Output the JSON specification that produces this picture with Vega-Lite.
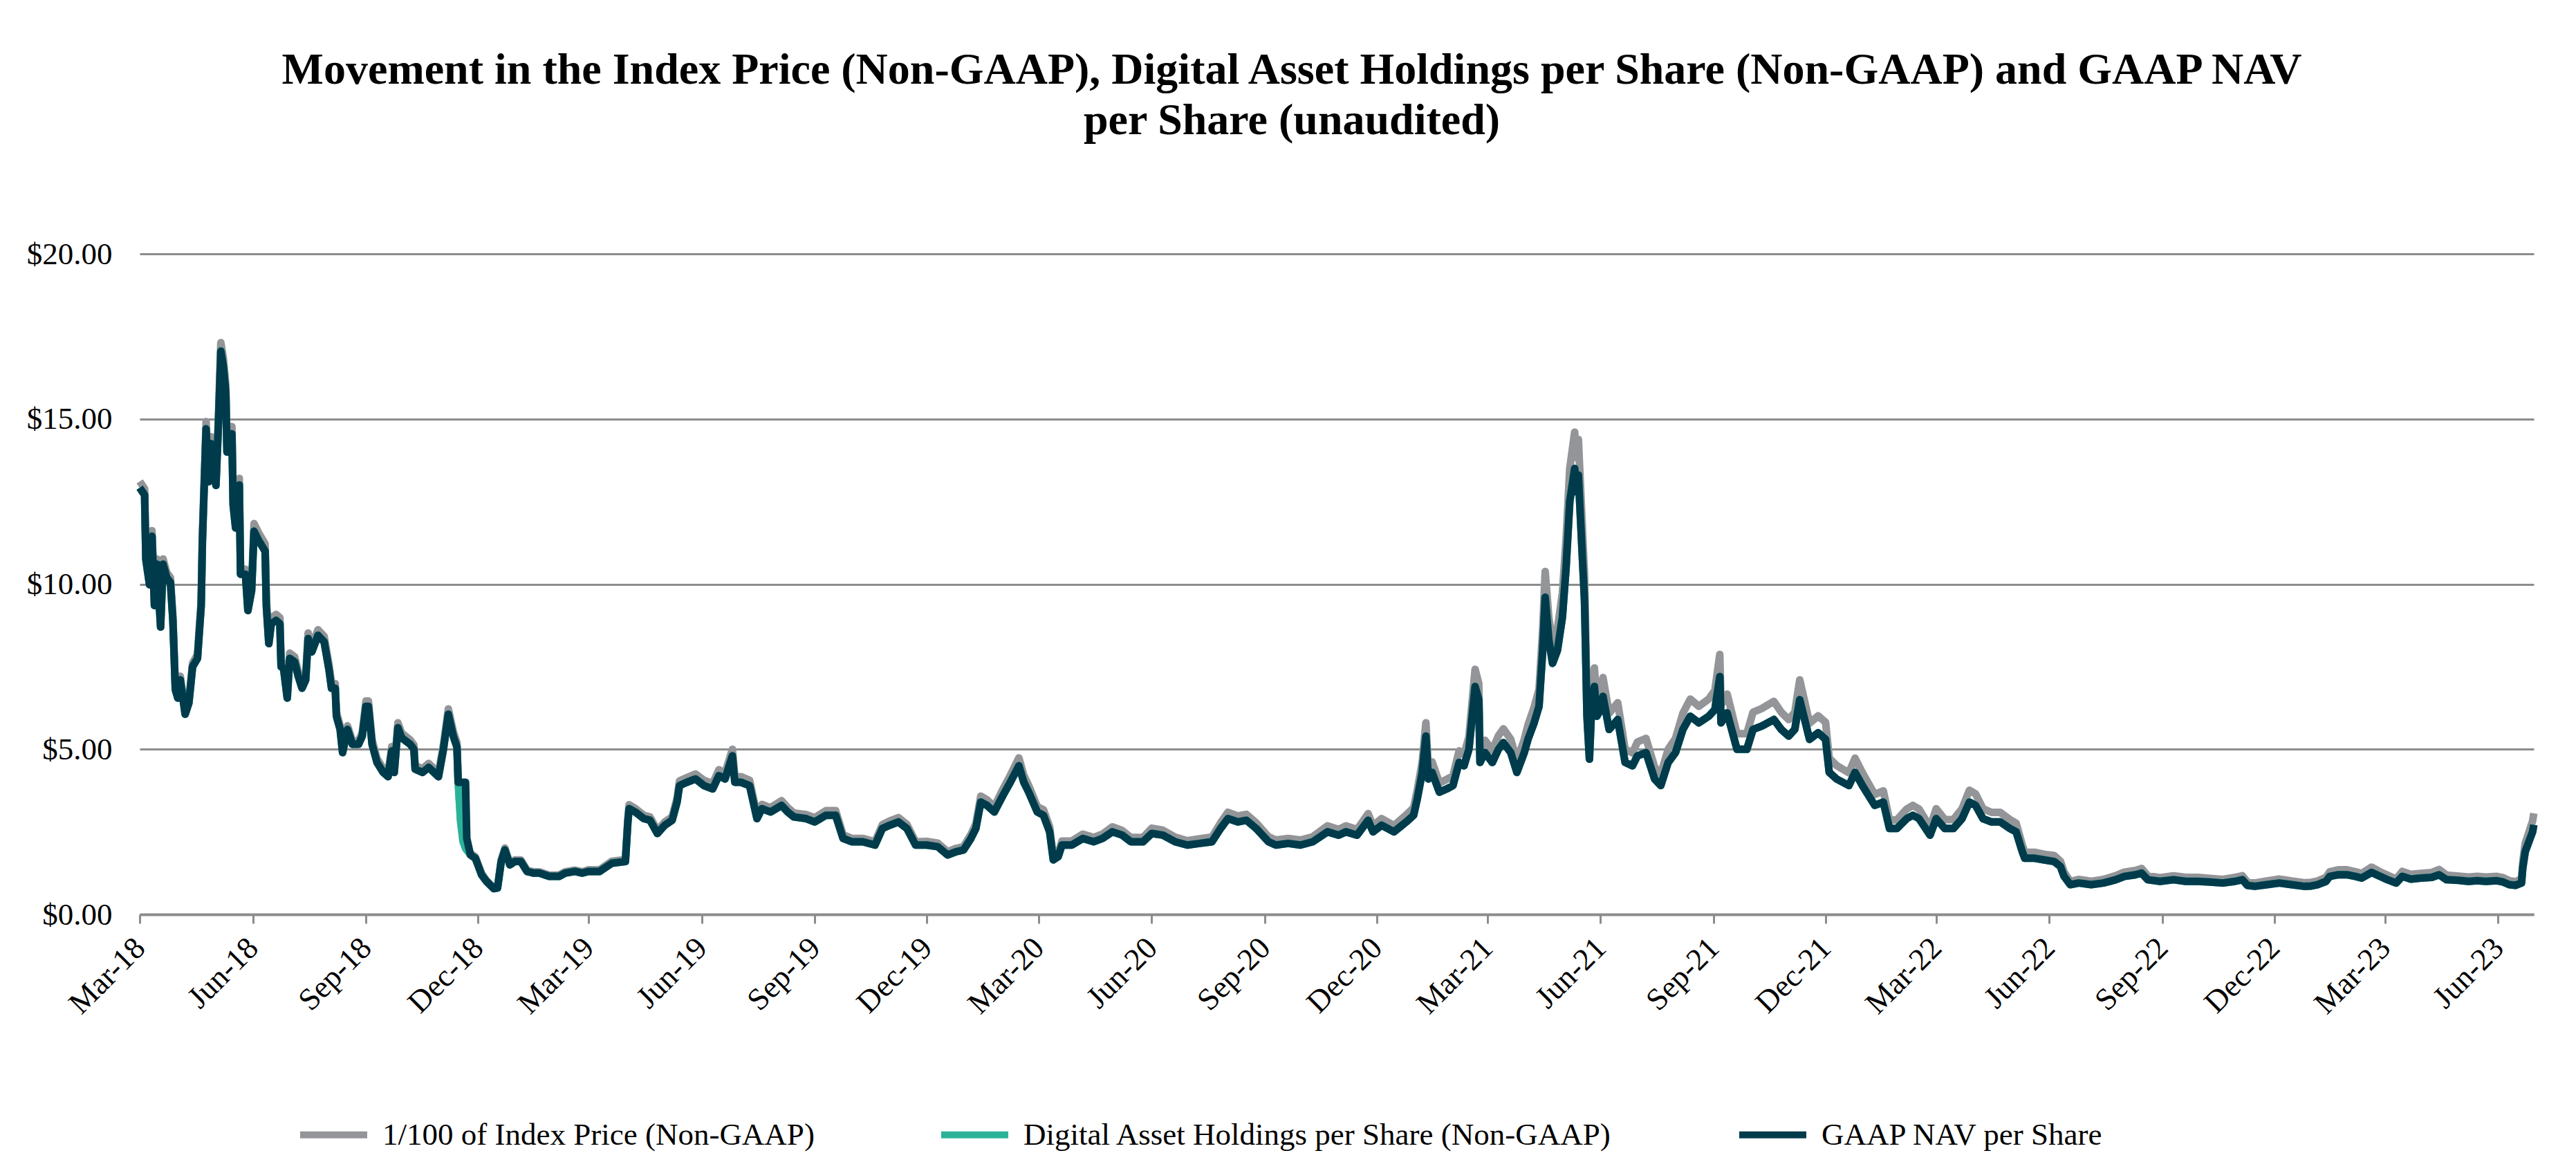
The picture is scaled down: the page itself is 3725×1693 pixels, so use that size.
{
"$schema": "https://vega.github.io/schema/vega-lite/v6.json",
"width": 3462,
"height": 955,
"autosize": {"type": "none"},
"padding": {"left": 202, "top": 367, "right": 61, "bottom": 371},
"background": "white",
"config": {"view": {"stroke": null}},
"title": {
  "text": ["Movement in the Index Price (Non-GAAP), Digital Asset Holdings per Share (Non-GAAP) and GAAP NAV", "per Share (unaudited)"],
  "font": "Liberation Serif", "fontSize": 64, "fontWeight": "bold", "color": "black",
  "anchor": "middle", "frame": "group", "lineHeight": 73, "offset": 138, "dx": -65
},
"data": {"values": [
{"d":"2018-03-01","i":13.11,"a":12.92,"n":12.92},
{"d":"2018-03-05","i":12.89,"a":12.7,"n":12.7},
{"d":"2018-03-06","i":10.91,"a":10.75,"n":10.75},
{"d":"2018-03-09","i":10.13,"a":9.98,"n":9.98},
{"d":"2018-03-11","i":11.62,"a":11.45,"n":11.45},
{"d":"2018-03-13","i":9.49,"a":9.35,"n":9.35},
{"d":"2018-03-15","i":10.76,"a":10.6,"n":10.6},
{"d":"2018-03-18","i":8.83,"a":8.7,"n":8.7},
{"d":"2018-03-20","i":10.76,"a":10.6,"n":10.6},
{"d":"2018-03-23","i":10.35,"a":10.2,"n":10.2},
{"d":"2018-03-26","i":10.2,"a":10.05,"n":10.05},
{"d":"2018-03-28","i":9.03,"a":8.9,"n":8.9},
{"d":"2018-03-30","i":6.9,"a":6.8,"n":6.8},
{"d":"2018-04-01","i":6.65,"a":6.55,"n":6.55},
{"d":"2018-04-03","i":7.21,"a":7.1,"n":7.1},
{"d":"2018-04-07","i":6.15,"a":6.06,"n":6.06},
{"d":"2018-04-10","i":6.5,"a":6.4,"n":6.4},
{"d":"2018-04-13","i":7.61,"a":7.5,"n":7.5},
{"d":"2018-04-17","i":7.87,"a":7.75,"n":7.75},
{"d":"2018-04-20","i":9.49,"a":9.35,"n":9.35},
{"d":"2018-04-21","i":11.47,"a":11.3,"n":11.3},
{"d":"2018-04-24","i":14.92,"a":14.7,"n":14.7},
{"d":"2018-04-26","i":13.3,"a":13.1,"n":13.1},
{"d":"2018-04-28","i":14.46,"a":14.25,"n":14.25},
{"d":"2018-04-30","i":14.01,"a":13.8,"n":13.8},
{"d":"2018-05-02","i":13.18,"a":12.99,"n":12.99},
{"d":"2018-05-04","i":15.02,"a":14.8,"n":14.8},
{"d":"2018-05-06","i":17.31,"a":17.05,"n":17.05},
{"d":"2018-05-08","i":16.85,"a":16.6,"n":16.6},
{"d":"2018-05-10","i":16.04,"a":15.8,"n":15.8},
{"d":"2018-05-11","i":14.21,"a":14.0,"n":14.0},
{"d":"2018-05-13","i":14.77,"a":14.55,"n":14.55},
{"d":"2018-05-15","i":14.77,"a":14.55,"n":14.55},
{"d":"2018-05-16","i":12.59,"a":12.4,"n":12.4},
{"d":"2018-05-18","i":11.88,"a":11.7,"n":11.7},
{"d":"2018-05-21","i":13.2,"a":13.0,"n":13.0},
{"d":"2018-05-22","i":10.45,"a":10.3,"n":10.3},
{"d":"2018-05-26","i":10.45,"a":10.3,"n":10.3},
{"d":"2018-05-28","i":9.34,"a":9.2,"n":9.2},
{"d":"2018-05-31","i":9.95,"a":9.8,"n":9.8},
{"d":"2018-06-02","i":11.83,"a":11.6,"n":11.6},
{"d":"2018-06-06","i":11.53,"a":11.3,"n":11.3},
{"d":"2018-06-11","i":11.22,"a":11.0,"n":11.0},
{"d":"2018-06-12","i":9.54,"a":9.35,"n":9.35},
{"d":"2018-06-14","i":8.36,"a":8.2,"n":8.2},
{"d":"2018-06-16","i":8.98,"a":8.8,"n":8.8},
{"d":"2018-06-20","i":9.08,"a":8.9,"n":8.9},
{"d":"2018-06-23","i":8.98,"a":8.8,"n":8.8},
{"d":"2018-06-24","i":7.65,"a":7.5,"n":7.5},
{"d":"2018-06-26","i":7.6,"a":7.45,"n":7.45},
{"d":"2018-06-29","i":6.68,"a":6.55,"n":6.55},
{"d":"2018-07-01","i":7.91,"a":7.75,"n":7.75},
{"d":"2018-07-05","i":7.8,"a":7.65,"n":7.65},
{"d":"2018-07-08","i":7.34,"a":7.2,"n":7.2},
{"d":"2018-07-11","i":6.99,"a":6.85,"n":6.85},
{"d":"2018-07-14","i":7.24,"a":7.1,"n":7.1},
{"d":"2018-07-16","i":8.52,"a":8.35,"n":8.35},
{"d":"2018-07-19","i":8.11,"a":7.95,"n":7.95},
{"d":"2018-07-24","i":8.62,"a":8.45,"n":8.45},
{"d":"2018-07-29","i":8.42,"a":8.25,"n":8.25},
{"d":"2018-08-02","i":7.55,"a":7.4,"n":7.4},
{"d":"2018-08-04","i":6.99,"a":6.85,"n":6.85},
{"d":"2018-08-07","i":6.99,"a":6.85,"n":6.85},
{"d":"2018-08-08","i":6.12,"a":6.0,"n":6.0},
{"d":"2018-08-11","i":5.71,"a":5.6,"n":5.6},
{"d":"2018-08-13","i":5.0,"a":4.9,"n":4.9},
{"d":"2018-08-17","i":5.71,"a":5.6,"n":5.6},
{"d":"2018-08-21","i":5.25,"a":5.15,"n":5.15},
{"d":"2018-08-26","i":5.25,"a":5.15,"n":5.15},
{"d":"2018-08-29","i":5.51,"a":5.4,"n":5.4},
{"d":"2018-09-01","i":6.46,"a":6.3,"n":6.3},
{"d":"2018-09-03","i":6.46,"a":6.3,"n":6.3},
{"d":"2018-09-06","i":5.28,"a":5.15,"n":5.15},
{"d":"2018-09-10","i":4.72,"a":4.6,"n":4.6},
{"d":"2018-09-15","i":4.41,"a":4.3,"n":4.3},
{"d":"2018-09-19","i":4.28,"a":4.17,"n":4.17},
{"d":"2018-09-22","i":5.08,"a":4.95,"n":4.95},
{"d":"2018-09-24","i":4.41,"a":4.3,"n":4.3},
{"d":"2018-09-27","i":5.8,"a":5.65,"n":5.65},
{"d":"2018-09-30","i":5.49,"a":5.35,"n":5.35},
{"d":"2018-10-07","i":5.28,"a":5.15,"n":5.15},
{"d":"2018-10-10","i":5.13,"a":5.0,"n":5.0},
{"d":"2018-10-11","i":4.51,"a":4.4,"n":4.4},
{"d":"2018-10-17","i":4.41,"a":4.3,"n":4.3},
{"d":"2018-10-22","i":4.57,"a":4.45,"n":4.45},
{"d":"2018-10-30","i":4.28,"a":4.17,"n":4.17},
{"d":"2018-11-03","i":5.13,"a":5.0,"n":5.0},
{"d":"2018-11-07","i":6.22,"a":6.06,"n":6.06},
{"d":"2018-11-11","i":5.54,"a":5.4,"n":5.4},
{"d":"2018-11-14","i":5.2,"a":5.07,"n":5.07},
{"d":"2018-11-15","i":4.1,"a":4.0,"n":4.0},
{"d":"2018-11-17","i":2.87,"a":2.8,"n":4.0},
{"d":"2018-11-19","i":2.26,"a":2.2,"n":4.0},
{"d":"2018-11-21","i":2.05,"a":2.0,"n":4.0},
{"d":"2018-11-22","i":2.0,"a":1.95,"n":2.3},
{"d":"2018-11-25","i":1.85,"a":1.8,"n":1.8},
{"d":"2018-11-29","i":1.74,"a":1.7,"n":1.7},
{"d":"2018-12-04","i":1.24,"a":1.2,"n":1.2},
{"d":"2018-12-08","i":1.03,"a":1.0,"n":1.0},
{"d":"2018-12-14","i":0.8,"a":0.78,"n":0.78},
{"d":"2018-12-17","i":0.82,"a":0.8,"n":0.8},
{"d":"2018-12-20","i":1.65,"a":1.6,"n":1.6},
{"d":"2018-12-23","i":2.01,"a":1.95,"n":1.95},
{"d":"2018-12-27","i":1.55,"a":1.5,"n":1.5},
{"d":"2018-12-31","i":1.65,"a":1.6,"n":1.6},
{"d":"2019-01-05","i":1.65,"a":1.6,"n":1.6},
{"d":"2019-01-10","i":1.34,"a":1.3,"n":1.3},
{"d":"2019-01-15","i":1.29,"a":1.25,"n":1.25},
{"d":"2019-01-20","i":1.29,"a":1.25,"n":1.25},
{"d":"2019-01-28","i":1.19,"a":1.15,"n":1.15},
{"d":"2019-02-05","i":1.19,"a":1.15,"n":1.15},
{"d":"2019-02-10","i":1.29,"a":1.25,"n":1.25},
{"d":"2019-02-18","i":1.34,"a":1.3,"n":1.3},
{"d":"2019-02-24","i":1.29,"a":1.25,"n":1.25},
{"d":"2019-03-01","i":1.35,"a":1.3,"n":1.3},
{"d":"2019-03-10","i":1.35,"a":1.3,"n":1.3},
{"d":"2019-03-20","i":1.61,"a":1.55,"n":1.55},
{"d":"2019-03-31","i":1.66,"a":1.6,"n":1.6},
{"d":"2019-04-02","i":2.9,"a":2.8,"n":2.8},
{"d":"2019-04-03","i":3.32,"a":3.2,"n":3.2},
{"d":"2019-04-08","i":3.21,"a":3.1,"n":3.1},
{"d":"2019-04-15","i":3.0,"a":2.9,"n":2.9},
{"d":"2019-04-20","i":2.95,"a":2.85,"n":2.85},
{"d":"2019-04-26","i":2.54,"a":2.45,"n":2.45},
{"d":"2019-05-02","i":2.8,"a":2.7,"n":2.7},
{"d":"2019-05-08","i":2.95,"a":2.85,"n":2.85},
{"d":"2019-05-12","i":3.52,"a":3.4,"n":3.4},
{"d":"2019-05-14","i":4.04,"a":3.9,"n":3.9},
{"d":"2019-05-20","i":4.14,"a":4.0,"n":4.0},
{"d":"2019-05-27","i":4.25,"a":4.1,"n":4.1},
{"d":"2019-06-03","i":4.06,"a":3.9,"n":3.9},
{"d":"2019-06-10","i":3.96,"a":3.8,"n":3.8},
{"d":"2019-06-15","i":4.38,"a":4.2,"n":4.2},
{"d":"2019-06-20","i":4.27,"a":4.1,"n":4.1},
{"d":"2019-06-26","i":5.0,"a":4.8,"n":4.8},
{"d":"2019-06-28","i":4.17,"a":4.0,"n":4.0},
{"d":"2019-07-03","i":4.17,"a":4.0,"n":4.0},
{"d":"2019-07-10","i":4.06,"a":3.9,"n":3.9},
{"d":"2019-07-16","i":3.02,"a":2.9,"n":2.9},
{"d":"2019-07-20","i":3.33,"a":3.2,"n":3.2},
{"d":"2019-07-27","i":3.23,"a":3.1,"n":3.1},
{"d":"2019-08-05","i":3.44,"a":3.3,"n":3.3},
{"d":"2019-08-10","i":3.23,"a":3.1,"n":3.1},
{"d":"2019-08-15","i":3.07,"a":2.95,"n":2.95},
{"d":"2019-08-25","i":3.02,"a":2.9,"n":2.9},
{"d":"2019-09-01","i":2.93,"a":2.8,"n":2.8},
{"d":"2019-09-10","i":3.14,"a":3.0,"n":3.0},
{"d":"2019-09-18","i":3.14,"a":3.0,"n":3.0},
{"d":"2019-09-24","i":2.41,"a":2.3,"n":2.3},
{"d":"2019-10-01","i":2.3,"a":2.2,"n":2.2},
{"d":"2019-10-10","i":2.3,"a":2.2,"n":2.2},
{"d":"2019-10-20","i":2.2,"a":2.1,"n":2.1},
{"d":"2019-10-26","i":2.72,"a":2.6,"n":2.6},
{"d":"2019-11-01","i":2.83,"a":2.7,"n":2.7},
{"d":"2019-11-08","i":2.93,"a":2.8,"n":2.8},
{"d":"2019-11-15","i":2.72,"a":2.6,"n":2.6},
{"d":"2019-11-22","i":2.2,"a":2.1,"n":2.1},
{"d":"2019-12-01","i":2.21,"a":2.1,"n":2.1},
{"d":"2019-12-10","i":2.16,"a":2.05,"n":2.05},
{"d":"2019-12-18","i":1.9,"a":1.8,"n":1.8},
{"d":"2019-12-25","i":2.0,"a":1.9,"n":1.9},
{"d":"2019-12-31","i":2.05,"a":1.95,"n":1.95},
{"d":"2020-01-06","i":2.42,"a":2.3,"n":2.3},
{"d":"2020-01-10","i":2.74,"a":2.6,"n":2.6},
{"d":"2020-01-14","i":3.58,"a":3.4,"n":3.4},
{"d":"2020-01-19","i":3.47,"a":3.3,"n":3.3},
{"d":"2020-01-25","i":3.26,"a":3.1,"n":3.1},
{"d":"2020-02-01","i":3.79,"a":3.6,"n":3.6},
{"d":"2020-02-07","i":4.21,"a":4.0,"n":4.0},
{"d":"2020-02-14","i":4.74,"a":4.5,"n":4.5},
{"d":"2020-02-18","i":4.21,"a":4.0,"n":4.0},
{"d":"2020-02-22","i":3.9,"a":3.7,"n":3.7},
{"d":"2020-02-29","i":3.26,"a":3.1,"n":3.1},
{"d":"2020-03-05","i":3.17,"a":3.0,"n":3.0},
{"d":"2020-03-10","i":2.65,"a":2.5,"n":2.5},
{"d":"2020-03-13","i":1.75,"a":1.65,"n":1.65},
{"d":"2020-03-17","i":1.85,"a":1.75,"n":1.75},
{"d":"2020-03-20","i":2.22,"a":2.1,"n":2.1},
{"d":"2020-03-28","i":2.22,"a":2.1,"n":2.1},
{"d":"2020-04-06","i":2.43,"a":2.3,"n":2.3},
{"d":"2020-04-15","i":2.33,"a":2.2,"n":2.2},
{"d":"2020-04-22","i":2.43,"a":2.3,"n":2.3},
{"d":"2020-04-30","i":2.65,"a":2.5,"n":2.5},
{"d":"2020-05-08","i":2.54,"a":2.4,"n":2.4},
{"d":"2020-05-15","i":2.33,"a":2.2,"n":2.2},
{"d":"2020-05-25","i":2.33,"a":2.2,"n":2.2},
{"d":"2020-06-01","i":2.61,"a":2.45,"n":2.45},
{"d":"2020-06-10","i":2.55,"a":2.4,"n":2.4},
{"d":"2020-06-20","i":2.34,"a":2.2,"n":2.2},
{"d":"2020-06-30","i":2.23,"a":2.1,"n":2.1},
{"d":"2020-07-10","i":2.29,"a":2.15,"n":2.15},
{"d":"2020-07-20","i":2.34,"a":2.2,"n":2.2},
{"d":"2020-07-27","i":2.77,"a":2.6,"n":2.6},
{"d":"2020-08-02","i":3.09,"a":2.9,"n":2.9},
{"d":"2020-08-10","i":2.98,"a":2.8,"n":2.8},
{"d":"2020-08-17","i":3.03,"a":2.85,"n":2.85},
{"d":"2020-08-25","i":2.77,"a":2.6,"n":2.6},
{"d":"2020-09-04","i":2.35,"a":2.2,"n":2.2},
{"d":"2020-09-10","i":2.25,"a":2.1,"n":2.1},
{"d":"2020-09-20","i":2.3,"a":2.15,"n":2.15},
{"d":"2020-09-30","i":2.25,"a":2.1,"n":2.1},
{"d":"2020-10-10","i":2.35,"a":2.2,"n":2.2},
{"d":"2020-10-22","i":2.68,"a":2.5,"n":2.5},
{"d":"2020-10-31","i":2.57,"a":2.4,"n":2.4},
{"d":"2020-11-06","i":2.68,"a":2.5,"n":2.5},
{"d":"2020-11-15","i":2.57,"a":2.4,"n":2.4},
{"d":"2020-11-24","i":3.05,"a":2.85,"n":2.85},
{"d":"2020-11-28","i":2.68,"a":2.5,"n":2.5},
{"d":"2020-12-05","i":2.9,"a":2.7,"n":2.7},
{"d":"2020-12-15","i":2.69,"a":2.5,"n":2.5},
{"d":"2020-12-25","i":3.01,"a":2.8,"n":2.8},
{"d":"2020-12-31","i":3.23,"a":3.0,"n":3.0},
{"d":"2021-01-03","i":3.76,"a":3.5,"n":3.5},
{"d":"2021-01-07","i":4.62,"a":4.3,"n":4.3},
{"d":"2021-01-10","i":5.8,"a":5.4,"n":5.4},
{"d":"2021-01-12","i":4.41,"a":4.1,"n":4.1},
{"d":"2021-01-15","i":4.62,"a":4.3,"n":4.3},
{"d":"2021-01-21","i":3.98,"a":3.7,"n":3.7},
{"d":"2021-01-27","i":4.09,"a":3.8,"n":3.8},
{"d":"2021-02-01","i":4.19,"a":3.9,"n":3.9},
{"d":"2021-02-06","i":4.95,"a":4.6,"n":4.6},
{"d":"2021-02-10","i":4.84,"a":4.5,"n":4.5},
{"d":"2021-02-14","i":5.38,"a":5.0,"n":5.0},
{"d":"2021-02-19","i":7.42,"a":6.9,"n":6.9},
{"d":"2021-02-22","i":6.99,"a":6.5,"n":6.5},
{"d":"2021-02-23","i":4.95,"a":4.6,"n":4.6},
{"d":"2021-02-27","i":5.27,"a":4.9,"n":4.9},
{"d":"2021-03-05","i":4.97,"a":4.6,"n":4.6},
{"d":"2021-03-10","i":5.41,"a":5.0,"n":5.0},
{"d":"2021-03-14","i":5.62,"a":5.2,"n":5.2},
{"d":"2021-03-20","i":5.3,"a":4.9,"n":4.9},
{"d":"2021-03-25","i":4.65,"a":4.3,"n":4.3},
{"d":"2021-03-31","i":5.3,"a":4.9,"n":4.9},
{"d":"2021-04-03","i":5.73,"a":5.3,"n":5.3},
{"d":"2021-04-08","i":6.27,"a":5.8,"n":5.8},
{"d":"2021-04-12","i":6.81,"a":6.3,"n":6.3},
{"d":"2021-04-15","i":8.65,"a":8.0,"n":8.0},
{"d":"2021-04-17","i":10.38,"a":9.6,"n":9.6},
{"d":"2021-04-20","i":8.97,"a":8.3,"n":8.3},
{"d":"2021-04-23","i":8.22,"a":7.6,"n":7.6},
{"d":"2021-04-27","i":8.65,"a":8.0,"n":8.0},
{"d":"2021-05-01","i":9.73,"a":9.0,"n":9.0},
{"d":"2021-05-04","i":11.35,"a":10.5,"n":10.5},
{"d":"2021-05-07","i":13.51,"a":12.5,"n":12.5},
{"d":"2021-05-11","i":14.6,"a":13.5,"n":13.5},
{"d":"2021-05-12","i":13.84,"a":12.8,"n":12.8},
{"d":"2021-05-14","i":14.38,"a":13.3,"n":13.3},
{"d":"2021-05-17","i":11.89,"a":11.0,"n":11.0},
{"d":"2021-05-19","i":10.27,"a":9.5,"n":9.5},
{"d":"2021-05-21","i":6.49,"a":6.0,"n":6.0},
{"d":"2021-05-23","i":5.08,"a":4.7,"n":4.7},
{"d":"2021-05-25","i":7.03,"a":6.5,"n":6.5},
{"d":"2021-05-27","i":7.46,"a":6.9,"n":6.9},
{"d":"2021-05-29","i":6.49,"a":6.0,"n":6.0},
{"d":"2021-06-01","i":6.74,"a":6.2,"n":6.2},
{"d":"2021-06-03","i":7.17,"a":6.6,"n":6.6},
{"d":"2021-06-08","i":6.09,"a":5.6,"n":5.6},
{"d":"2021-06-15","i":6.41,"a":5.9,"n":5.9},
{"d":"2021-06-21","i":5.0,"a":4.6,"n":4.6},
{"d":"2021-06-27","i":4.89,"a":4.5,"n":4.5},
{"d":"2021-07-01","i":5.22,"a":4.8,"n":4.8},
{"d":"2021-07-08","i":5.33,"a":4.9,"n":4.9},
{"d":"2021-07-15","i":4.46,"a":4.1,"n":4.1},
{"d":"2021-07-20","i":4.24,"a":3.9,"n":3.9},
{"d":"2021-07-26","i":5.0,"a":4.6,"n":4.6},
{"d":"2021-08-01","i":5.33,"a":4.9,"n":4.9},
{"d":"2021-08-07","i":6.09,"a":5.6,"n":5.6},
{"d":"2021-08-13","i":6.52,"a":6.0,"n":6.0},
{"d":"2021-08-20","i":6.3,"a":5.8,"n":5.8},
{"d":"2021-08-28","i":6.52,"a":6.0,"n":6.0},
{"d":"2021-09-02","i":6.78,"a":6.2,"n":6.2},
{"d":"2021-09-06","i":7.87,"a":7.2,"n":7.2},
{"d":"2021-09-07","i":6.34,"a":5.8,"n":5.8},
{"d":"2021-09-12","i":6.67,"a":6.1,"n":6.1},
{"d":"2021-09-20","i":5.47,"a":5.0,"n":5.0},
{"d":"2021-09-28","i":5.47,"a":5.0,"n":5.0},
{"d":"2021-10-03","i":6.12,"a":5.6,"n":5.6},
{"d":"2021-10-10","i":6.23,"a":5.7,"n":5.7},
{"d":"2021-10-15","i":6.34,"a":5.8,"n":5.8},
{"d":"2021-10-20","i":6.45,"a":5.9,"n":5.9},
{"d":"2021-10-26","i":6.12,"a":5.6,"n":5.6},
{"d":"2021-11-01","i":5.9,"a":5.4,"n":5.4},
{"d":"2021-11-06","i":6.12,"a":5.6,"n":5.6},
{"d":"2021-11-10","i":7.1,"a":6.5,"n":6.5},
{"d":"2021-11-14","i":6.45,"a":5.9,"n":5.9},
{"d":"2021-11-18","i":5.79,"a":5.3,"n":5.3},
{"d":"2021-11-25","i":6.01,"a":5.5,"n":5.5},
{"d":"2021-12-01","i":5.82,"a":5.3,"n":5.3},
{"d":"2021-12-04","i":4.73,"a":4.3,"n":4.3},
{"d":"2021-12-10","i":4.51,"a":4.1,"n":4.1},
{"d":"2021-12-20","i":4.29,"a":3.9,"n":3.9},
{"d":"2021-12-25","i":4.73,"a":4.3,"n":4.3},
{"d":"2021-12-31","i":4.29,"a":3.9,"n":3.9},
{"d":"2022-01-05","i":3.96,"a":3.6,"n":3.6},
{"d":"2022-01-10","i":3.63,"a":3.3,"n":3.3},
{"d":"2022-01-17","i":3.74,"a":3.4,"n":3.4},
{"d":"2022-01-22","i":2.86,"a":2.6,"n":2.6},
{"d":"2022-01-28","i":2.86,"a":2.6,"n":2.6},
{"d":"2022-02-05","i":3.19,"a":2.9,"n":2.9},
{"d":"2022-02-10","i":3.3,"a":3.0,"n":3.0},
{"d":"2022-02-15","i":3.19,"a":2.9,"n":2.9},
{"d":"2022-02-24","i":2.64,"a":2.4,"n":2.4},
{"d":"2022-03-01","i":3.2,"a":2.9,"n":2.9},
{"d":"2022-03-08","i":2.87,"a":2.6,"n":2.6},
{"d":"2022-03-15","i":2.87,"a":2.6,"n":2.6},
{"d":"2022-03-22","i":3.2,"a":2.9,"n":2.9},
{"d":"2022-03-28","i":3.76,"a":3.4,"n":3.4},
{"d":"2022-04-02","i":3.65,"a":3.3,"n":3.3},
{"d":"2022-04-08","i":3.2,"a":2.9,"n":2.9},
{"d":"2022-04-15","i":3.09,"a":2.8,"n":2.8},
{"d":"2022-04-22","i":3.09,"a":2.8,"n":2.8},
{"d":"2022-04-30","i":2.87,"a":2.6,"n":2.6},
{"d":"2022-05-05","i":2.76,"a":2.5,"n":2.5},
{"d":"2022-05-10","i":2.1,"a":1.9,"n":1.9},
{"d":"2022-05-12","i":1.88,"a":1.7,"n":1.7},
{"d":"2022-05-20","i":1.88,"a":1.7,"n":1.7},
{"d":"2022-05-28","i":1.82,"a":1.65,"n":1.65},
{"d":"2022-06-05","i":1.78,"a":1.6,"n":1.6},
{"d":"2022-06-10","i":1.61,"a":1.45,"n":1.45},
{"d":"2022-06-13","i":1.28,"a":1.15,"n":1.15},
{"d":"2022-06-18","i":1.0,"a":0.9,"n":0.9},
{"d":"2022-06-25","i":1.06,"a":0.95,"n":0.95},
{"d":"2022-07-05","i":1.0,"a":0.9,"n":0.9},
{"d":"2022-07-15","i":1.06,"a":0.95,"n":0.95},
{"d":"2022-07-25","i":1.17,"a":1.05,"n":1.05},
{"d":"2022-08-01","i":1.28,"a":1.15,"n":1.15},
{"d":"2022-08-10","i":1.33,"a":1.2,"n":1.2},
{"d":"2022-08-15","i":1.39,"a":1.25,"n":1.25},
{"d":"2022-08-20","i":1.17,"a":1.05,"n":1.05},
{"d":"2022-08-30","i":1.11,"a":1.0,"n":1.0},
{"d":"2022-09-10","i":1.17,"a":1.05,"n":1.05},
{"d":"2022-09-20","i":1.12,"a":1.0,"n":1.0},
{"d":"2022-09-30","i":1.12,"a":1.0,"n":1.0},
{"d":"2022-10-10","i":1.09,"a":0.98,"n":0.98},
{"d":"2022-10-20","i":1.06,"a":0.95,"n":0.95},
{"d":"2022-10-30","i":1.12,"a":1.0,"n":1.0},
{"d":"2022-11-05","i":1.17,"a":1.05,"n":1.05},
{"d":"2022-11-09","i":0.98,"a":0.88,"n":0.88},
{"d":"2022-11-15","i":0.95,"a":0.85,"n":0.85},
{"d":"2022-11-25","i":1.01,"a":0.9,"n":0.9},
{"d":"2022-12-05","i":1.07,"a":0.95,"n":0.95},
{"d":"2022-12-15","i":1.01,"a":0.9,"n":0.9},
{"d":"2022-12-25","i":0.96,"a":0.85,"n":0.85},
{"d":"2022-12-31","i":0.97,"a":0.86,"n":0.86},
{"d":"2023-01-05","i":1.01,"a":0.9,"n":0.9},
{"d":"2023-01-12","i":1.12,"a":1.0,"n":1.0},
{"d":"2023-01-15","i":1.29,"a":1.15,"n":1.15},
{"d":"2023-01-22","i":1.35,"a":1.2,"n":1.2},
{"d":"2023-01-29","i":1.35,"a":1.2,"n":1.2},
{"d":"2023-02-05","i":1.29,"a":1.15,"n":1.15},
{"d":"2023-02-10","i":1.24,"a":1.1,"n":1.1},
{"d":"2023-02-18","i":1.43,"a":1.27,"n":1.27},
{"d":"2023-02-25","i":1.29,"a":1.15,"n":1.15},
{"d":"2023-03-03","i":1.19,"a":1.05,"n":1.05},
{"d":"2023-03-10","i":1.07,"a":0.95,"n":0.95},
{"d":"2023-03-15","i":1.3,"a":1.15,"n":1.15},
{"d":"2023-03-22","i":1.21,"a":1.07,"n":1.07},
{"d":"2023-03-30","i":1.24,"a":1.1,"n":1.1},
{"d":"2023-04-08","i":1.27,"a":1.12,"n":1.12},
{"d":"2023-04-14","i":1.36,"a":1.2,"n":1.2},
{"d":"2023-04-20","i":1.19,"a":1.05,"n":1.05},
{"d":"2023-04-30","i":1.16,"a":1.03,"n":1.03},
{"d":"2023-05-08","i":1.13,"a":1.0,"n":1.0},
{"d":"2023-05-15","i":1.15,"a":1.02,"n":1.02},
{"d":"2023-05-22","i":1.13,"a":1.0,"n":1.0},
{"d":"2023-05-31","i":1.15,"a":1.02,"n":1.02},
{"d":"2023-06-05","i":1.11,"a":0.98,"n":0.98},
{"d":"2023-06-10","i":1.02,"a":0.9,"n":0.9},
{"d":"2023-06-15","i":0.99,"a":0.88,"n":0.88},
{"d":"2023-06-20","i":1.07,"a":0.95,"n":0.95},
{"d":"2023-06-21","i":1.58,"a":1.4,"n":1.4},
{"d":"2023-06-23","i":2.15,"a":1.9,"n":1.9},
{"d":"2023-06-25","i":2.37,"a":2.1,"n":2.1},
{"d":"2023-06-27","i":2.6,"a":2.3,"n":2.3},
{"d":"2023-06-29","i":2.83,"a":2.5,"n":2.5},
{"d":"2023-06-30","i":3.06,"a":2.71,"n":2.71}
]},
"transform": [{"fold": ["i", "a", "n"], "as": ["k", "v"]}],
"encoding": {
  "x": {"field": "d", "type": "temporal",
    "scale": {"type": "utc", "domain": [{"year": 2018, "month": 3, "date": 1, "utc": true}, {"year": 2023, "month": 6, "date": 30, "utc": true}]},
    "axis": {"title": null, "format": "%b-%y", "labelAngle": -45, "labelAlign": "right", "labelBaseline": "middle",
      "labelFont": "Liberation Serif", "labelFontSize": 45, "labelColor": "black", "labelPadding": 28, "labelOverlap": false, "labelFlush": false,
      "grid": false, "domainColor": "#8c8c8c", "domainWidth": 4, "tickColor": "#8c8c8c", "tickWidth": 3, "tickSize": 13,
      "values": [
        {"year":2018,"month":3,"date":1,"utc":true},{"year":2018,"month":6,"date":1,"utc":true},{"year":2018,"month":9,"date":1,"utc":true},{"year":2018,"month":12,"date":1,"utc":true},
        {"year":2019,"month":3,"date":1,"utc":true},{"year":2019,"month":6,"date":1,"utc":true},{"year":2019,"month":9,"date":1,"utc":true},{"year":2019,"month":12,"date":1,"utc":true},
        {"year":2020,"month":3,"date":1,"utc":true},{"year":2020,"month":6,"date":1,"utc":true},{"year":2020,"month":9,"date":1,"utc":true},{"year":2020,"month":12,"date":1,"utc":true},
        {"year":2021,"month":3,"date":1,"utc":true},{"year":2021,"month":6,"date":1,"utc":true},{"year":2021,"month":9,"date":1,"utc":true},{"year":2021,"month":12,"date":1,"utc":true},
        {"year":2022,"month":3,"date":1,"utc":true},{"year":2022,"month":6,"date":1,"utc":true},{"year":2022,"month":9,"date":1,"utc":true},{"year":2022,"month":12,"date":1,"utc":true},
        {"year":2023,"month":3,"date":1,"utc":true},{"year":2023,"month":6,"date":1,"utc":true}
      ]}},
  "y": {"field": "v", "type": "quantitative",
    "scale": {"domain": [0, 20], "nice": false, "zero": true},
    "axis": {"title": null, "values": [0, 5, 10, 15, 20], "format": "$.2f", "labelFont": "Liberation Serif", "labelFontSize": 45, "labelColor": "black",
      "labelPadding": 40, "domain": false, "ticks": false, "grid": true, "gridColor": "#8c8c8c", "gridWidth": 3}},
  "color": {"field": "k", "type": "nominal",
    "scale": {"domain": ["i", "a", "n"], "range": ["#939598", "#2BB39A", "#003B4C"]},
    "legend": {"title": null, "orient": "none", "legendX": 227, "legendY": 1220, "direction": "horizontal",
      "symbolType": "stroke", "symbolSize": 9409, "symbolStrokeWidth": 10, "labelFont": "Liberation Serif", "labelFontSize": 45, "labelColor": "black",
      "labelLimit": 2000, "labelOffset": 17, "columnPadding": 163,
      "labelExpr": "datum.label == 'i' ? '1/100 of Index Price (Non-GAAP)' : datum.label == 'a' ? 'Digital Asset Holdings per Share (Non-GAAP)' : 'GAAP NAV per Share'"}}
},
"layer": [
  {"transform": [{"filter": "datum.k == 'i'"}], "mark": {"type": "line", "strokeWidth": 11, "strokeJoin": "round"}},
  {"transform": [{"filter": "datum.k == 'a'"}], "mark": {"type": "line", "strokeWidth": 11, "strokeJoin": "round"}},
  {"transform": [{"filter": "datum.k == 'n'"}], "mark": {"type": "line", "strokeWidth": 11, "strokeJoin": "round"}}
]
}
